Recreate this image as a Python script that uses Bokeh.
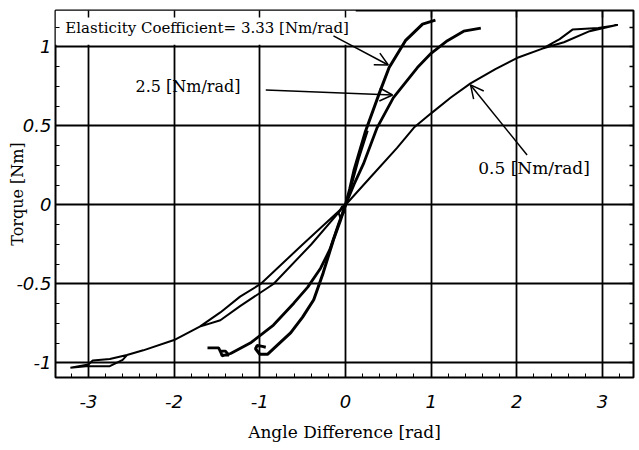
from bokeh.plotting import figure
from bokeh.models import Range1d, FixedTicker, LinearAxis, Label, Arrow, OpenHead
from bokeh.embed import file_html
from bokeh.resources import INLINE

# ---------------- data ----------------
x_ticks = [-3, -2, -1, 0, 1, 2, 3]
x_tick_labels = ["-3", "-2", "-1", "0", "1", "2", "3"]
y_ticks = [-1, -0.5, 0, 0.5, 1]
y_tick_labels = ["-1", "-0.5", "0", "0.5", "1"]

# 0.5 Nm/rad curve (hysteresis loop)
c_x = [3.18, 2.95, 2.65, 2.5, 2.3, 2.0, 1.75, 1.46, 1.23, 1.0, 0.8, 0.6, 0.3, 0.0,
       -0.5, -0.99, -1.23, -1.46, -1.7, -2.0, -2.36, -2.55, -2.75, -2.95, -3.0, -3.21,
       -3.0, -2.75, -2.6, -2.55, -2.36, -2.0, -1.7, -1.46, -1.23, -0.84, -0.4, -0.05,
       0.0, 0.3, 0.6, 0.8, 1.0, 1.23, 1.46, 1.75, 2.0, 2.3, 2.55, 2.85, 3.18]
c_y = [1.14, 1.12, 1.11, 1.05, 0.99, 0.93, 0.86, 0.77, 0.68, 0.58, 0.49, 0.36, 0.18, 0.0,
       -0.25, -0.5, -0.58, -0.68, -0.77, -0.855, -0.92, -0.95, -0.975, -0.985, -1.01, -1.03,
       -1.02, -1.02, -0.98, -0.95, -0.92, -0.855, -0.77, -0.73, -0.64, -0.5, -0.25, -0.03,
       0.0, 0.18, 0.36, 0.49, 0.58, 0.68, 0.77, 0.86, 0.93, 0.99, 1.03, 1.10, 1.14]

# 2.5 Nm/rad curve
b_x = [-1.61, -1.48, -1.44, -1.36, -1.40, -1.46, -1.44, -1.34, -1.1, -0.84, -0.6, -0.44,
       -0.29, -0.18, -0.08, 0.0, 0.1, 0.21, 0.37, 0.56, 0.84, 1.0, 1.19, 1.38, 1.58]
b_y = [-0.905, -0.905, -0.95, -0.95, -0.925, -0.925, -0.955, -0.94, -0.87, -0.76, -0.62, -0.52,
       -0.40, -0.28, -0.12, 0.0, 0.13, 0.26, 0.49, 0.68, 0.87, 0.96, 1.04, 1.10, 1.12]

# 3.33 Nm/rad curve
a_x = [-0.93, -0.97, -1.03, -1.05, -1.0, -0.91, -0.76, -0.64, -0.5, -0.37, -0.26, -0.14,
       -0.06, 0.0, 0.05, 0.1, 0.23, 0.39, 0.51, 0.70, 0.90, 1.05]
a_y = [-0.90, -0.895, -0.89, -0.91, -0.945, -0.945, -0.87, -0.81, -0.71, -0.60, -0.43, -0.22,
       -0.1, 0.0, 0.1, 0.22, 0.46, 0.70, 0.87, 1.04, 1.145, 1.17]
a2_x = [0.0, 0.08, 0.16, 0.26]
a2_y = [0.0, 0.14, 0.30, 0.47]
o_x = [0.0, -0.04, -0.08, -0.06, -0.02, 0.0]
o_y = [0.0, -0.01, -0.05, -0.08, -0.05, 0.0]

title_text = "Elasticity Coefficient= 3.33 [Nm/rad]"
label_b = "2.5 [Nm/rad]"
label_c = "0.5 [Nm/rad]"
x_label = "Angle Difference [rad]"
y_label = "Torque [Nm]"

# ---------------- figure ----------------
X0, X1 = -3.384, 3.362
Y0, Y1 = -1.092, 1.231

p = figure(width=639, height=450, x_range=Range1d(X0, X1), y_range=Range1d(Y0, Y1),
           output_backend="svg", toolbar_location=None,
           min_border_left=55, min_border_right=6, min_border_top=10, min_border_bottom=73)
p.background_fill_color = "white"
p.border_fill_color = "white"
p.outline_line_color = "black"
p.outline_line_width = 2

xmin = [v / 5 for v in range(-16, 17)]
ymin = [v / 8 for v in range(-8, 10)]

serif = "DejaVu Serif"

for ax, tks, labs, mins in ((p.xaxis[0], x_ticks, x_tick_labels, xmin),
                            (p.yaxis[0], y_ticks, y_tick_labels, ymin)):
    ax.ticker = FixedTicker(ticks=tks, minor_ticks=mins)
    ax.major_label_overrides = {t: l for t, l in zip(tks, labs)}
    ax.axis_line_color = None
    ax.major_tick_out = 0
    ax.major_tick_in = 0
    ax.minor_tick_out = 0
    ax.minor_tick_in = 4
    ax.minor_tick_line_color = "black"
    ax.major_label_text_font = "DejaVu Sans"
    ax.major_label_text_font_style = "italic"
    ax.major_label_text_font_size = "18px"
    ax.major_label_text_color = "black"
    ax.axis_label_text_font = serif
    ax.axis_label_text_font_style = "normal"
    ax.axis_label_text_color = "black"

p.xaxis[0].major_label_standoff = 17
p.yaxis[0].major_label_standoff = 4
p.xaxis[0].axis_label = x_label
p.xaxis[0].axis_label_text_font_size = "17px"
p.xaxis[0].axis_label_standoff = 11
p.yaxis[0].axis_label = y_label
p.yaxis[0].axis_label_text_font_size = "16px"
p.yaxis[0].axis_label_standoff = -14

for side, mins, tick_len in (("right", ymin, 4), ("above", x_ticks, 7)):
    ax = LinearAxis(ticker=FixedTicker(ticks=[], minor_ticks=mins))
    ax.major_label_standoff = 0
    ax.axis_line_color = None
    ax.major_tick_out = 0
    ax.major_tick_in = 0
    ax.minor_tick_out = 0
    ax.minor_tick_in = tick_len
    ax.minor_tick_line_color = "black"
    ax.minor_tick_line_width = 1.5
    p.add_layout(ax, side)

p.xgrid.ticker = FixedTicker(ticks=x_ticks)
p.ygrid.ticker = FixedTicker(ticks=y_ticks)
for g in (p.xgrid[0], p.ygrid[0]):
    g.grid_line_color = "black"
    g.grid_line_width = 1.8
    g.grid_line_alpha = 1.0

# white band behind the title text
p.quad(left=X0, right=0.12, bottom=1.014, top=Y1, fill_color="white", line_color=None)

p.line(c_x, c_y, line_color="black", line_width=2.0)
p.line(b_x, b_y, line_color="black", line_width=2.8)
p.line(a_x, a_y, line_color="black", line_width=3.0)
p.line(a2_x, a2_y, line_color="black", line_width=2.0)
p.line(o_x, o_y, line_color="black", line_width=2.0)

p.add_layout(Label(x=-3.27, y=1.123, text=title_text, text_font=serif, text_font_size="15px",
                   text_baseline="middle", text_align="left", text_color="black"))
p.add_layout(Label(x=-2.45, y=0.753, text=label_b, text_font=serif, text_font_size="16px",
                   text_baseline="middle", text_align="left", text_color="black"))
p.add_layout(Label(x=1.55, y=0.237, text=label_c, text_font=serif, text_font_size="17px",
                   text_baseline="middle", text_align="left", text_color="black"))

for xs, ys, xe, ye in ((-0.14, 1.07, 0.50, 0.886),
                       (-0.93, 0.728, 0.55, 0.696),
                       (2.12, 0.316, 1.46, 0.76)):
    p.add_layout(Arrow(end=OpenHead(size=13, line_width=1.5, line_color="black"),
                       x_start=xs, y_start=ys, x_end=xe, y_end=ye,
                       line_width=1.5, line_color="black"))

open("out.html", "w").write(file_html(p, INLINE))
